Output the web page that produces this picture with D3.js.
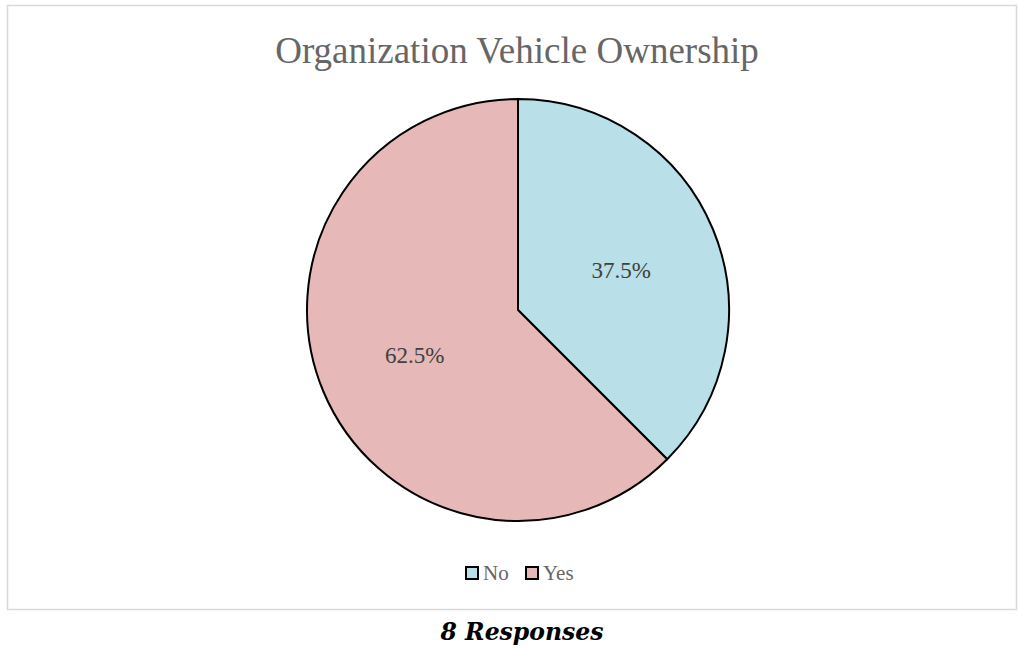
<!DOCTYPE html>
<html>
<head>
<meta charset="utf-8">
<script src="https://cdn.jsdelivr.net/npm/d3@7"></script>
<style>
  body { margin: 0; background: #fff; }
  text { font-family: Garamond, "Liberation Serif", serif; }
</style>
</head>
<body>
<div id="chart"></div>
<script>
const categories = ['No', 'Yes'];
const shares = [37.5, 62.5];
const colors = ['#b9dfe8', '#e6b8b7'];
const title = 'Organization Vehicle Ownership';
const footnote = '8 Responses';

const width = 1018, height = 649;
const cx = 518, cy = 310, radius = 211;

const svg = d3.select('#chart').append('svg')
  .attr('width', width)
  .attr('height', height);

// frame
svg.append('rect')
  .attr('x', 7.5).attr('y', 5.5)
  .attr('width', 1009).attr('height', 604)
  .attr('fill', 'none')
  .attr('stroke', '#d9d9d9')
  .attr('stroke-width', 1.5);

svg.append('text')
  .attr('x', 517).attr('y', 63)
  .attr('text-anchor', 'middle')
  .attr('font-size', 37)
  .attr('fill', '#666')
  .text(title);

const pie = d3.pie().sort(null).value(d => d)(shares);
const arc = d3.arc().innerRadius(0).outerRadius(radius);
const labelArc = d3.arc().innerRadius(radius * 0.53).outerRadius(radius * 0.53);

const g = svg.append('g').attr('transform', `translate(${cx},${cy})`);

g.selectAll('path')
  .data(pie)
  .enter()
  .append('path')
  .attr('d', arc)
  .attr('fill', (d, i) => colors[i])
  .attr('stroke', '#000')
  .attr('stroke-width', 2)
  .attr('stroke-linejoin', 'round');

g.selectAll('.lbl')
  .data(pie)
  .enter()
  .append('text')
  .attr('class', 'lbl')
  .attr('transform', d => `translate(${labelArc.centroid(d)})`)
  .attr('text-anchor', 'middle')
  .attr('dy', '0.45em')
  .attr('font-size', 23)
  .attr('fill', '#404040')
  .text(d => d.data.toFixed(1) + '%');

// legend
const legend = svg.append('g').attr('transform', 'translate(466,573)');
const offsets = [0, 60];
categories.forEach((c, i) => {
  const item = legend.append('g').attr('transform', `translate(${offsets[i]},0)`);
  item.append('rect')
    .attr('x', 0).attr('y', -6)
    .attr('width', 12).attr('height', 12)
    .attr('fill', colors[i])
    .attr('stroke', '#000')
    .attr('stroke-width', 2);
  item.append('text')
    .attr('x', 17).attr('y', 0)
    .attr('dy', '0.35em')
    .attr('font-size', 21)
    .attr('fill', '#666')
    .text(c);
});

svg.append('text')
  .attr('x', 522).attr('y', 640)
  .attr('text-anchor', 'middle')
  .style('font-family', '"DejaVu Serif", serif')
  .attr('font-size', 23.5)
  .attr('font-weight', 'bold')
  .attr('font-style', 'italic')
  .attr('fill', '#000')
  .text(footnote);
</script>
</body>
</html>
